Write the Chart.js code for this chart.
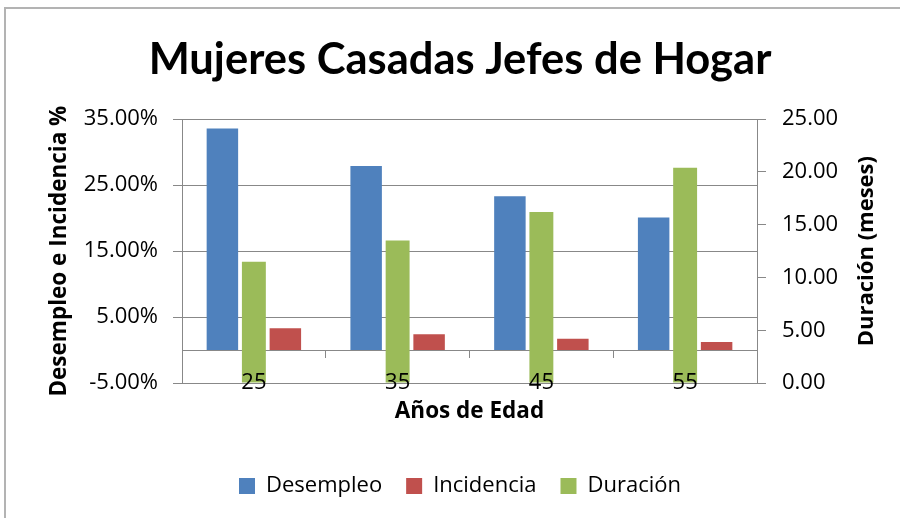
<!DOCTYPE html>
<html>
<head>
<meta charset="utf-8">
<script src="https://cdn.jsdelivr.net/npm/chart.js@4.4.0/dist/chart.umd.min.js"></script>
<style>
  body { margin: 0; background: #fff; }
  #wrap { position: relative; width: 900px; height: 518px; overflow: hidden; }
  #frame { position: absolute; left: 4px; top: 7px; width: 1000px; height: 1000px;
           border-left: 2px solid #b3b3b3; border-top: 2px solid #b3b3b3; pointer-events: none; }
</style>
</head>
<body>
<div id="wrap">
  <canvas id="myChart" width="900" height="518" style="width:900px;height:518px"></canvas>
  <div id="frame"></div>
</div>
<script>
var edades = ['25', '35', '45', '55'];
var desempleo = [33.6, 27.9, 23.3, 20.1];
var incidencia = [3.3, 2.4, 1.7, 1.2];
var duracion = [11.5, 13.5, 16.2, 20.4];
var ordenLeyenda = ['Desempleo', 'Incidencia', 'Duración'];

var gris = '#888888';
var fuente = 'Open Sans';

// Excel puts the secondary axis title reading bottom-to-top, Chart.js does the opposite
var tituloDerecho = {
    id: 'tituloDerecho',
    afterDraw: function (chart) {
        var s = chart.scales.y1;
        var ctx = chart.ctx;
        ctx.save();
        ctx.translate(s.right - 33, (s.top + s.bottom) / 2);
        ctx.rotate(-Math.PI / 2);
        ctx.font = 'bold 22px "' + fuente + '"';
        ctx.fillStyle = '#000';
        ctx.textAlign = 'center';
        ctx.textBaseline = 'middle';
        ctx.fillText('Duración (meses)', 0, 0);
        ctx.restore();
    }
};

var ctx_chart = document.getElementById('myChart');
var myChart = new Chart(ctx_chart, {
    type: 'bar',
    data: {
        labels: edades,
        datasets: [
            {
                label: 'Desempleo',
                data: desempleo,
                backgroundColor: '#4F81BD',
                yAxisID: 'y',
                barPercentage: 1.0
            },
            {
                label: 'Duración',
                data: duracion,
                backgroundColor: '#9BBB59',
                yAxisID: 'y1',
                barPercentage: 0.76
            },
            {
                label: 'Incidencia',
                data: incidencia,
                backgroundColor: '#C0504D',
                yAxisID: 'y',
                barPercentage: 1.0
            }
        ]
    },
    options: {
        responsive: false,
        animation: false,
        datasets: { bar: { categoryPercentage: 0.657 } },
        layout: { padding: { left: 20, right: 0, top: 0, bottom: 11 } },
        plugins: {
            title: {
                display: true,
                text: 'Mujeres Casadas Jefes de Hogar',
                color: '#000',
                font: { family: 'Lato', size: 43.5, weight: 'bold' },
                padding: { top: 34, bottom: 33 }
            },
            legend: {
                position: 'bottom',
                labels: {
                    color: '#000',
                    font: { family: fuente, size: 22 },
                    boxWidth: 16,
                    boxHeight: 16,
                    padding: 24,
                    sort: function (a, b) {
                        return ordenLeyenda.indexOf(a.text) - ordenLeyenda.indexOf(b.text);
                    }
                }
            },
            tooltip: { enabled: false }
        },
        scales: {
            x: {
                position: 'bottom',
                grid: { display: false, drawTicks: false },
                border: { display: false },
                // mirror keeps the labels from being clipped to the axis box, so they can sit on the bars
                ticks: { z: 1, mirror: true, color: '#000', font: { family: fuente, size: 22 }, padding: -13, maxRotation: 0 },
                title: {
                    display: true,
                    text: 'Años de Edad',
                    color: '#000',
                    font: { family: fuente, size: 22.5, weight: 'bold' },
                    padding: { top: 0, bottom: 25.5 }
                },
                afterFit: function (s) { s.height = 68; }
            },
            x2: {
                type: 'category',
                position: { y: 0 },
                offset: true,
                grid: { offset: true, drawOnChartArea: false, color: gris, tickLength: 7 },
                border: { color: gris },
                ticks: { display: false },
                afterFit: function (s) { s.height = 0; }
            },
            y: {
                position: 'left',
                min: -5,
                max: 35,
                grid: { color: gris, tickLength: 9 },
                border: { color: gris },
                ticks: {
                    stepSize: 10,
                    color: '#000',
                    font: { family: fuente, size: 22 },
                    padding: 15,
                    callback: function (v) { return v.toFixed(2) + '%'; }
                },
                title: {
                    display: true,
                    text: 'Desempleo e Incidencia %',
                    color: '#000',
                    font: { family: fuente, size: 22.5, weight: 'bold' },
                    padding: { top: 26.5, bottom: 0 }
                },
                afterFit: function (s) { s.width = 162; }
            },
            y1: {
                position: 'right',
                min: 0,
                max: 25,
                grid: { drawOnChartArea: false, color: gris, tickLength: 9 },
                border: { color: gris },
                ticks: {
                    stepSize: 5,
                    color: '#000',
                    font: { family: fuente, size: 22 },
                    padding: 16,
                    callback: function (v) { return v.toFixed(2); }
                },
                afterFit: function (s) { s.width = 143; }
            }
        }
    },
    plugins: [tituloDerecho]
});
</script>
</body>
</html>
